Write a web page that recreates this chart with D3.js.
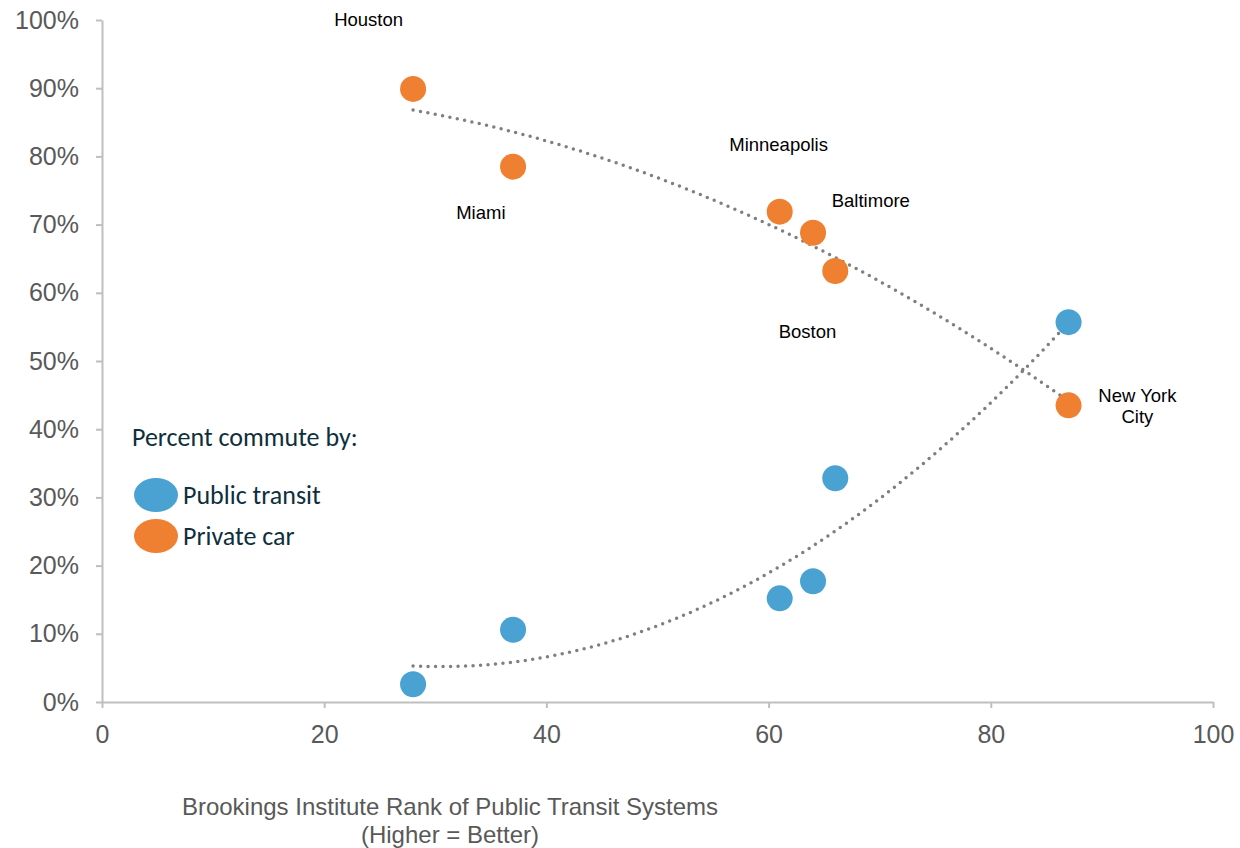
<!DOCTYPE html>
<html>
<head>
<meta charset="utf-8">
<script src="https://cdn.jsdelivr.net/npm/d3@7"></script>
<style>
  body { margin: 0; background: #fff; }
  #chart svg { display: block; }
</style>
</head>
<body>
<div id="chart"></div>
<script>
// data
const cities = ['Houston', 'Miami', 'Minneapolis', 'Baltimore', 'Boston', 'New York City'];
const rank = [28, 37, 61, 64, 66, 87];
const publicTransit = [2.6, 10.6, 15.2, 17.7, 32.8, 55.7];
const privateCar = [89.9, 78.5, 71.9, 68.8, 63.2, 43.5];
const xTicks = [0, 20, 40, 60, 80, 100];
const yTicks = [0, 10, 20, 30, 40, 50, 60, 70, 80, 90, 100];

// label anchors (data space) for city names
const labelPos = [
  { x: 24.0, y: 100 },
  { x: 34.1, y: 71.7 },
  { x: 60.9, y: 81.7 },
  { x: 69.2, y: 73.6 },
  { x: 63.5, y: 54.3 },
  { x: 93.2, y: 44.9 }
];

const width = 1240, height = 848;
const margin = { left: 102, right: 27, top: 20, bottom: 146 };

const blue = '#4aa2d2';
const orange = '#ef7f31';
const axisGrey = '#bfbfbf';
const tickText = '#595959';
const sans = '"Liberation Sans", Arial, sans-serif';

const svg = d3.select('#chart').append('svg')
  .attr('width', width)
  .attr('height', height);

const x = d3.scaleLinear().domain([0, 100]).range([margin.left, width - margin.right]);
const y = d3.scaleLinear().domain([0, 100]).range([height - margin.bottom, margin.top]);

// axes
const xAxis = svg.append('g')
  .attr('transform', `translate(0,${y(0)})`)
  .call(d3.axisBottom(x).tickValues(xTicks).tickSize(6).tickPadding(17).tickSizeOuter(0));
const yAxis = svg.append('g')
  .attr('transform', `translate(${x(0)},0)`)
  .call(d3.axisLeft(y).tickValues(yTicks).tickFormat(d => d + '%').tickSize(6).tickPadding(17).tickSizeOuter(0));

[xAxis, yAxis].forEach(g => {
  g.select('.domain').attr('stroke', axisGrey).attr('stroke-width', 2);
  g.selectAll('.tick line').attr('stroke', axisGrey).attr('stroke-width', 2);
  g.selectAll('.tick text')
    .attr('fill', tickText)
    .style('font-family', sans)
    .style('font-size', '25px');
});

// quadratic least squares fit (like Excel's polynomial trendline)
function quadFit(xs, ys) {
  let s = [0, 0, 0, 0, 0], t = [0, 0, 0];
  xs.forEach((xv, i) => {
    for (let k = 0; k < 5; k++) s[k] += Math.pow(xv, k);
    for (let k = 0; k < 3; k++) t[k] += ys[i] * Math.pow(xv, k);
  });
  const A = [
    [s[0], s[1], s[2], t[0]],
    [s[1], s[2], s[3], t[1]],
    [s[2], s[3], s[4], t[2]]
  ];
  for (let i = 0; i < 3; i++) {
    for (let j = i + 1; j < 3; j++) {
      const f = A[j][i] / A[i][i];
      for (let k = i; k < 4; k++) A[j][k] -= f * A[i][k];
    }
  }
  const c = [0, 0, 0];
  for (let i = 2; i >= 0; i--) {
    let v = A[i][3];
    for (let k = i + 1; k < 3; k++) v -= A[i][k] * c[k];
    c[i] = v / A[i][i];
  }
  return xv => c[0] + c[1] * xv + c[2] * xv * xv;
}

const line = d3.line().x(d => x(d[0])).y(d => y(d[1]));
const xMin = d3.min(rank), xMax = d3.max(rank);

[publicTransit, privateCar].forEach(series => {
  const f = quadFit(rank, series);
  const pts = d3.range(xMin, xMax + 0.01, 0.5).map(v => [v, f(v)]);
  svg.append('path')
    .datum(pts)
    .attr('d', line)
    .attr('fill', 'none')
    .attr('stroke', '#7f7f7f')
    .attr('stroke-width', 3.5)
    .attr('stroke-linecap', 'round')
    .attr('stroke-dasharray', '0 7.5');
});

// points
const pointData = [];
rank.forEach((r, i) => {
  pointData.push({ x: r, y: privateCar[i], color: orange });
  pointData.push({ x: r, y: publicTransit[i], color: blue });
});

svg.append('g').selectAll('circle')
  .data(pointData)
  .enter()
  .append('circle')
  .attr('cx', d => x(d.x))
  .attr('cy', d => y(d.y))
  .attr('r', 13)
  .attr('fill', d => d.color);

// city labels
const labels = svg.append('g')
  .style('font-family', sans)
  .style('font-size', '18.5px')
  .attr('fill', '#000');

cities.forEach((c, i) => {
  const t = labels.append('text')
    .attr('x', x(labelPos[i].x))
    .attr('y', y(labelPos[i].y))
    .attr('text-anchor', 'middle')
    .attr('dy', '0.35em');
  if (c === 'New York City') {
    t.append('tspan').attr('x', x(labelPos[i].x)).text('New York');
    t.append('tspan').attr('x', x(labelPos[i].x)).attr('dy', '1.12em').text('City');
  } else {
    t.text(c);
  }
});

// legend
const legendFont = 'Carlito, Lato, "Open Sans", sans-serif';
const legendColor = '#0e2f3c';
const legend = svg.append('g');
legend.append('text')
  .attr('x', 132)
  .attr('y', 446)
  .attr('fill', legendColor)
  .style('font-family', legendFont)
  .style('font-size', '26px')
  .text('Percent commute by:');

const legendItems = [
  { label: 'Public transit', color: blue },
  { label: 'Private car', color: orange }
];
legendItems.forEach((d, i) => {
  const cy = 495 + i * 41;
  legend.append('ellipse')
    .attr('cx', 156)
    .attr('cy', cy)
    .attr('rx', 22)
    .attr('ry', 17)
    .attr('fill', d.color);
  legend.append('text')
    .attr('x', 183)
    .attr('y', cy + 9)
    .attr('fill', legendColor)
    .style('font-family', legendFont)
    .style('font-size', '26px')
    .text(d.label);
});

// x axis title
const xt = svg.append('text')
  .attr('text-anchor', 'middle')
  .attr('fill', tickText)
  .style('font-family', sans)
  .style('font-size', '24px');
xt.append('tspan').attr('x', 450).attr('y', 815).text('Brookings Institute Rank of Public Transit Systems');
xt.append('tspan').attr('x', 450).attr('y', 843).text('(Higher = Better)');
</script>
</body>
</html>
